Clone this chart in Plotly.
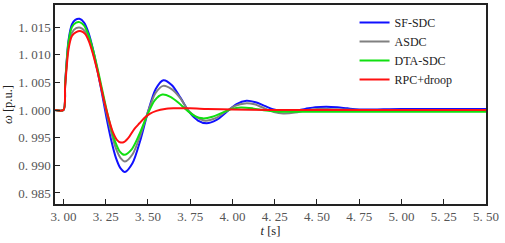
import plotly.graph_objects as go

# SF-SDC
t_sf = [2.95, 3.00, 3.01, 3.03, 3.05, 3.07, 3.095, 3.122, 3.149, 3.176, 3.203, 3.23,
        3.256, 3.283, 3.31, 3.337, 3.364, 3.409, 3.455, 3.50, 3.546, 3.591, 3.642,
        3.693, 3.745, 3.796, 3.847, 3.906, 3.965, 4.024, 4.083, 4.137, 4.19, 4.245,
        4.30, 4.365, 4.43, 4.49, 4.555, 4.62, 4.68, 4.75, 5.0, 5.5]
w_sf = [1.0, 1.0, 1.0048, 1.0126, 1.0155, 1.0163, 1.0165, 1.0158, 1.0139, 1.0108, 1.0069,
        1.00265, 0.9984, 0.9945, 0.9914, 0.9895, 0.9888, 0.9904, 0.99454, 0.99966,
        1.00381, 1.0054, 1.0045, 1.0022, 0.9996, 0.9981, 0.9976, 0.9982, 0.99964,
        1.00108, 1.00167, 1.0014, 1.00075, 1.0001, 0.99982, 0.99989, 1.0002, 1.0005,
        1.0006, 1.0005, 1.0003, 1.0001, 1.0002, 1.0002]

# ASDC
t_as = [2.95, 3.00, 3.01, 3.03, 3.05, 3.075, 3.10, 3.126, 3.153, 3.179, 3.206, 3.232,
        3.258, 3.285, 3.311, 3.338, 3.364, 3.409, 3.455, 3.50, 3.545, 3.59, 3.64, 3.69,
        3.74, 3.79, 3.84, 3.90, 3.957, 4.016, 4.075, 4.13, 4.19, 4.245, 4.30, 4.37,
        4.44, 4.50, 4.56, 4.65, 4.75, 5.0, 5.5]
w_as = [1.0, 1.0, 1.0045, 1.0118, 1.0140, 1.0148, 1.0149, 1.0143, 1.0126, 1.0099, 1.0065,
        1.0028, 0.9991, 0.9957, 0.9930, 0.9913, 0.9907, 0.99201, 0.99543, 0.99965,
        1.00307, 1.00437, 1.00377, 1.00219, 0.9999, 0.99867, 0.99807, 0.99853,
        0.99964, 1.00075, 1.0012, 1.00103, 1.0003, 0.99966, 0.99939, 0.99955, 1.0,
        1.0002, 1.0002, 1.0001, 1.0, 0.9999, 0.9999]

# DTA-SDC
t_dt = [2.95, 3.00, 3.01, 3.03, 3.05, 3.075, 3.095, 3.1215, 3.148, 3.1745, 3.201,
        3.2275, 3.254, 3.2805, 3.307, 3.3335, 3.36, 3.405, 3.45, 3.495, 3.54, 3.585,
        3.633, 3.681, 3.729, 3.777, 3.825, 3.881, 3.9375, 3.994, 4.05, 4.12, 4.20,
        4.28, 4.40, 5.5]
w_dt = [1.0, 1.0, 1.0047, 1.0123, 1.0150, 1.0158, 1.0159, 1.01531, 1.01361, 1.01096,
        1.00761, 1.0039, 1.00019, 0.99684, 0.99419, 0.99249, 0.9919, 0.99294, 0.99567,
        0.99903, 1.00176, 1.0028, 1.00239, 1.00131, 0.99999, 0.99891, 0.99849, 0.99878,
        0.99948, 1.00018, 1.00047, 1.0003, 0.9999, 0.9997, 0.9997, 0.9997]

# RPC+droop
t_rp = [2.95, 3.00, 3.01, 3.03, 3.05, 3.075, 3.105, 3.128, 3.152, 3.175, 3.199, 3.222,
        3.245, 3.269, 3.292, 3.316, 3.339, 3.36, 3.39, 3.42, 3.45, 3.48, 3.51, 3.55,
        3.60, 3.65, 3.75, 3.85, 4.0, 4.25, 5.5]
w_rp = [1.0, 1.0, 1.0043, 1.0110, 1.0134, 1.0141, 1.01426, 1.01377, 1.01234, 1.01011,
        1.0073, 1.00419, 1.00108, 0.99827, 0.99604, 0.99461, 0.99412, 0.99425, 0.9952,
        0.9966, 0.9976, 0.9986, 0.9993, 0.99985, 1.0002, 1.0003, 1.0003, 1.0002, 1.0001,
        1.0, 1.0]

series = [
    ("SF-SDC", t_sf, w_sf, "#1010ff"),
    ("ASDC", t_as, w_as, "#808080"),
    ("DTA-SDC", t_dt, w_dt, "#10e010"),
    ("RPC+droop", t_rp, w_rp, "#ff1010"),
]

x_ticks = [3.00, 3.25, 3.50, 3.75, 4.00, 4.25, 4.50, 4.75, 5.00, 5.25, 5.50]
y_ticks = [0.985, 0.990, 0.995, 1.000, 1.005, 1.010, 1.015]

fig = go.Figure()
for name, t, w, c in series:
    fig.add_trace(go.Scatter(x=t, y=w, name=name, mode="lines",
                             line=dict(color=c, width=2, shape="spline", smoothing=0.8)))

serif = "Liberation Serif"
fig.update_layout(
    width=505, height=243,
    margin=dict(l=55, r=19, t=3, b=39),
    plot_bgcolor="white", paper_bgcolor="white",
    font=dict(family=serif, size=12, color="#444"),
    showlegend=True,
    legend=dict(x=0.695, y=0.985, xanchor="left", yanchor="top",
                bgcolor="rgba(0,0,0,0)", font=dict(family=serif, size=12, color="#222"),
                tracegroupgap=0, itemwidth=30),
)
fig.update_xaxes(range=[2.95, 5.50], tickvals=x_ticks,
                 ticktext=[f"{v:.2f}".replace(".", ". ") for v in x_ticks],
                 tickfont=dict(family=serif, size=13, color="#555"),
                 ticks="inside", ticklen=5, tickcolor="#222", showgrid=False,
                 zeroline=False, showline=True, linecolor="#222", linewidth=1.5, mirror=True,
                 title=dict(text="<i>t</i> [s]", standoff=1,
                            font=dict(family=serif, size=12.5, color="#222")))
fig.update_yaxes(range=[0.983, 1.019], tickvals=y_ticks,
                 ticktext=[f"{v:.3f}".replace(".", ". ") for v in y_ticks],
                 tickfont=dict(family=serif, size=13, color="#555"),
                 ticks="inside", ticklen=5, tickcolor="#222", showgrid=False,
                 zeroline=False, showline=True, linecolor="#222", linewidth=1.5, mirror=True,
                 title=dict(text="<i>ω</i> [p.u.]", standoff=3,
                            font=dict(family=serif, size=12.5, color="#222")))

# page has a default 8px body margin; drop it so the figure sits at the window origin
fig.write_html("out.html", config={"displayModeBar": False},
               post_script="document.body.style.margin='0';")
